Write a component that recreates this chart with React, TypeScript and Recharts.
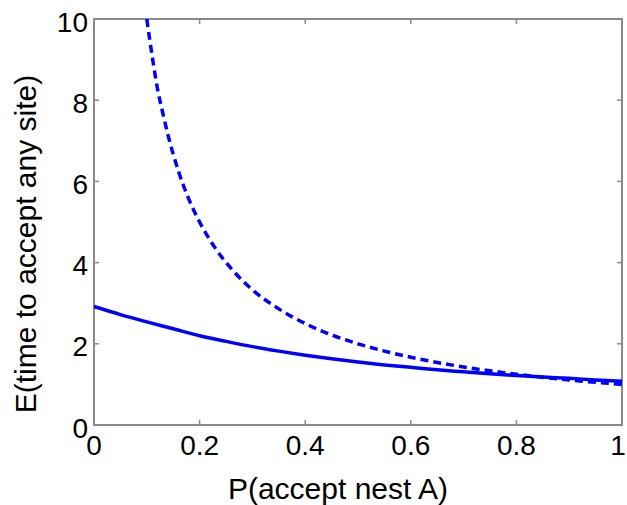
import { LineChart, Line, XAxis, YAxis, ReferenceArea } from 'recharts';

// solid curve
const solidP = [0, 0.05, 0.1, 0.15, 0.2, 0.25, 0.3, 0.35, 0.4, 0.45, 0.5, 0.55, 0.6, 0.65, 0.7, 0.75, 0.8, 0.85, 0.9, 0.95, 1];
const solidE = [2.92, 2.72, 2.54, 2.37, 2.2, 2.06, 1.93, 1.82, 1.72, 1.63, 1.55, 1.48, 1.42, 1.36, 1.31, 1.26, 1.22, 1.18, 1.15, 1.11, 1.08];

// dashed curve
const dashedP = [0.1, 0.11, 0.12, 0.13, 0.14, 0.16, 0.18, 0.2, 0.23, 0.26, 0.3, 0.35, 0.4, 0.45, 0.5, 0.6, 0.7, 0.8, 0.9, 1];
const dashedE = [10, 9.1, 8.3, 7.7, 7.15, 6.25, 5.55, 5, 4.35, 3.85, 3.33, 2.86, 2.5, 2.22, 2, 1.67, 1.43, 1.25, 1.11, 1.0];

const xTicks = [0, 0.2, 0.4, 0.6, 0.8, 1];
const yTicks = [0, 2, 4, 6, 8, 10];

const solidData = solidP.map((p, i) => ({ p, e: solidE[i] }));
const dashedData = dashedP.map((p, i) => ({ p, e: dashedE[i] }));

const W = 627;
const H = 505;
const LEFT = 94;
const RIGHT = 622;
const TOP = 19;
const BOTTOM = 425;
const FONT = 'Liberation Sans, Arial, sans-serif';
const FRAME = '#8a8a8a';

const XTick = (props: any) => {
  const { x, payload } = props;
  const edge = payload.value === 0 || payload.value === 1;
  return (
    <g>
      {!edge && <line x1={x} y1={BOTTOM} x2={x} y2={BOTTOM - 5} stroke={FRAME} strokeWidth={1.5} />}
      {!edge && <line x1={x} y1={TOP} x2={x} y2={TOP + 5} stroke={FRAME} strokeWidth={1.5} />}
      <text
        x={payload.value === 1 ? x - 4 : x}
        y={455}
        textAnchor="middle"
        fontSize={28}
        fontFamily={FONT}
        fill="#000"
      >
        {payload.value}
      </text>
    </g>
  );
};

const YTick = (props: any) => {
  const { y, payload } = props;
  const edge = payload.value === 0 || payload.value === 10;
  return (
    <g>
      {!edge && <line x1={LEFT} y1={y} x2={LEFT + 5} y2={y} stroke={FRAME} strokeWidth={1.5} />}
      {!edge && <line x1={RIGHT} y1={y} x2={RIGHT - 5} y2={y} stroke={FRAME} strokeWidth={1.5} />}
      <text x={LEFT - 6} y={y + 3} textAnchor="end" dominantBaseline="central" fontSize={28} fontFamily={FONT} fill="#000">
        {payload.value}
      </text>
    </g>
  );
};

export default function App() {
  return (
    <div style={{ position: 'absolute', left: 0, top: 0, width: W, height: H, background: '#fff' }}>
      <LineChart width={W} height={H} margin={{ top: TOP, right: W - RIGHT, bottom: 0, left: 0 }}>
        <XAxis
          dataKey="p"
          type="number"
          domain={[0, 1]}
          ticks={xTicks}
          axisLine={false}
          tickLine={false}
          height={H - BOTTOM}
          tick={<XTick />}
          interval={0}
          allowDuplicatedCategory={false}
          label={() => (
            <text x={338} y={499} textAnchor="middle" fontSize={30} fontFamily={FONT} fill="#000">
              P(accept nest A)
            </text>
          )}
        />
        <YAxis
          type="number"
          domain={[0, 10]}
          ticks={yTicks}
          axisLine={false}
          tickLine={false}
          width={LEFT}
          tick={<YTick />}
          interval={0}
          allowDataOverflow
          label={() => (
            <text
              x={25}
              y={244}
              transform="rotate(-90 25 244)"
              textAnchor="middle"
              dominantBaseline="central"
              fontSize={30}
              fontFamily={FONT}
              fill="#000"
            >
              E(time to accept any site)
            </text>
          )}
        />
        <ReferenceArea x1={0} x2={1} y1={0} y2={10} fill="none" stroke={FRAME} strokeWidth={2} />
        <Line
          data={solidData}
          dataKey="e"
          type="monotone"
          stroke="#0000ff"
          strokeWidth={3.5}
          dot={false}
          isAnimationActive={false}
        />
        <Line
          data={dashedData}
          dataKey="e"
          type="monotone"
          stroke="#0000ff"
          strokeWidth={3.5}
          strokeDasharray="8 5"
          dot={false}
          isAnimationActive={false}
        />
      </LineChart>
    </div>
  );
}
